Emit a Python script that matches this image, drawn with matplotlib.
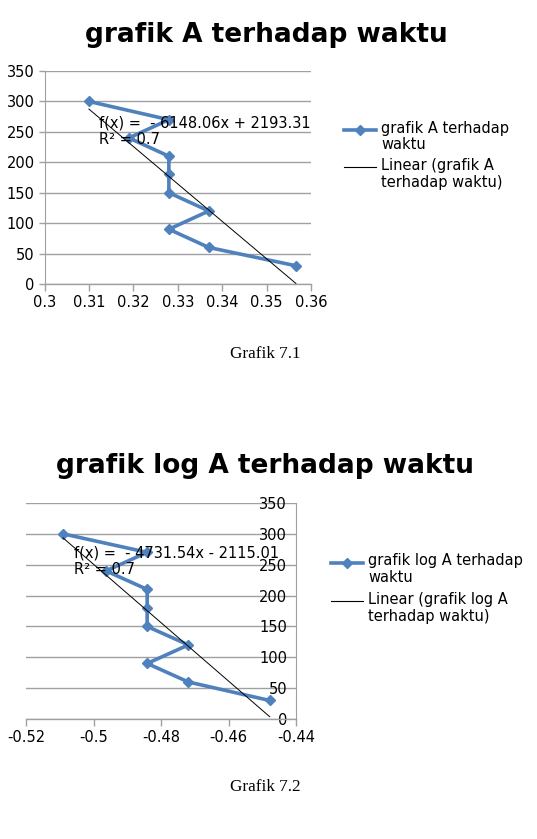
import matplotlib
matplotlib.use("Agg")
import matplotlib.pyplot as plt
from matplotlib.lines import Line2D
from matplotlib.ticker import FuncFormatter

# ---- data ----
waktu = [300, 270, 240, 210, 180, 150, 120, 90, 60, 30]
A = [0.310, 0.328, 0.319, 0.328, 0.328, 0.328, 0.337, 0.328, 0.337, 0.3566]
logA = [-0.509, -0.4841, -0.4963, -0.4841, -0.4841, -0.4841, -0.4719, -0.4841, -0.4719, -0.4478]
fit1_slope, fit1_intercept = -6148.06, 2193.31
fit2_slope, fit2_intercept = -4731.54, -2115.01
r2_1, r2_2 = 0.7, 0.7
title1 = "grafik A terhadap waktu"
title2 = "grafik log A terhadap waktu"
series1 = "grafik A terhadap\nwaktu"
trend1 = "Linear (grafik A\nterhadap waktu)"
series2 = "grafik log A terhadap\nwaktu"
trend2 = "Linear (grafik log A\nterhadap waktu)"
caption1 = "Grafik 7.1"
caption2 = "Grafik 7.2"
xticks1 = [0.30, 0.31, 0.32, 0.33, 0.34, 0.35, 0.36]
xticks2 = [-0.52, -0.50, -0.48, -0.46, -0.44]
yticks = [0, 50, 100, 150, 200, 250, 300, 350]

W, H = 537, 839
BLUE = "#4F81BD"
GRID = "#a0a0a0"
FS = 10.5
plt.rcParams['font.family'] = ['DejaVu Sans']

fig = plt.figure(figsize=(W / 100, H / 100), dpi=100)


def px(x, y):
    return x / W, 1 - y / H


def fmt(v, pos):
    s = ("%.2f" % v).rstrip("0").rstrip(".")
    if s == "-0":
        s = "0"
    return s


def style_axes(ax, xticks):
    ax.set_ylim(0, 350)
    ax.set_xlim(xticks[0], xticks[-1])
    ax.set_xticks(xticks)
    ax.set_yticks(yticks)
    ax.xaxis.set_major_formatter(FuncFormatter(fmt))
    ax.yaxis.grid(True, color=GRID, lw=1.0)
    ax.set_axisbelow(True)
    for s in ["top", "right", "left", "bottom"]:
        ax.spines[s].set_visible(False)
    ax.spines["bottom"].set_visible(True)
    ax.spines["bottom"].set_color(GRID)
    ax.spines["bottom"].set_linewidth(1.0)
    ax.tick_params(axis="x", direction="out", length=5, width=1, color=GRID,
                   labelsize=FS, pad=3)
    ax.tick_params(axis="y", labelsize=FS, color=GRID, width=1, length=4)


def draw(ax, x, y, slope, intercept):
    ax.plot(x, y, color=BLUE, lw=2.6, marker="D", ms=5, mfc=BLUE, mec=BLUE,
            solid_joinstyle="miter", zorder=3)
    xs = [min(x), max(x)]
    ax.plot(xs, [slope * v + intercept for v in xs], color="black", lw=0.7, zorder=4)


def legend(x0, y0, lab1, lab2, dy2):
    xa, ya = px(x0, y0)
    xb, _ = px(x0 + 32, y0)
    xm = (xa + xb) / 2
    fig.add_artist(Line2D([xa, xm, xb], [ya, ya, ya], transform=fig.transFigure,
                          color=BLUE, lw=2.6, marker="D", ms=5, markevery=[1]))
    tx, _ = px(x0 + 37.5, y0)
    fig.text(tx, ya + 9 / H, lab1, fontsize=FS, va="top", ha="left", linespacing=1.15)
    _, yb = px(x0, y0 + dy2)
    fig.add_artist(Line2D([xa, xb], [yb, yb], transform=fig.transFigure,
                          color="black", lw=0.8))
    fig.text(tx, yb + 9 / H, lab2, fontsize=FS, va="top", ha="left", linespacing=1.15)


# ---- chart 1 ----
l, b = px(44.5, 284)
ax1 = fig.add_axes([l, b, 266.5 / W, 213 / H])
draw(ax1, A, waktu, fit1_slope, fit1_intercept)
style_axes(ax1, xticks1)
ax1.spines["left"].set_visible(True)
ax1.spines["left"].set_color(GRID)
ax1.tick_params(axis="y", direction="out", pad=3)

fig.text(*px(266, 42), title1, fontsize=19, fontweight="bold", ha="center", va="baseline")
fig.text(*px(99, 128), "f(x) =  - %.2fx + %.2f" % (-fit1_slope, fit1_intercept),
         fontsize=FS, ha="left", va="baseline")
fig.text(*px(99, 143.5), "R² = %.1f" % r2_1, fontsize=FS, ha="left", va="baseline")
legend(343.5, 129.5, series1, trend1, 37.5)
fig.text(*px(265, 358), caption1, fontsize=12.3, ha="center", va="baseline",
         family=["Liberation Serif"])

# ---- chart 2 ----
l, b = px(26, 719)
ax2 = fig.add_axes([l, b, 270 / W, 216 / H])
draw(ax2, logA, waktu, fit2_slope, fit2_intercept)
style_axes(ax2, xticks2)
ax2.spines["right"].set_visible(True)
ax2.spines["right"].set_color(GRID)
ax2.yaxis.tick_right()
ax2.tick_params(axis="y", direction="in", length=0, pad=-6.5)
for t in ax2.get_yticklabels():
    t.set_horizontalalignment("right")

fig.text(*px(265, 473), title2, fontsize=19, fontweight="bold", ha="center", va="baseline")
fig.text(*px(73.5, 557.5), "f(x) =  - %.2fx - %.2f" % (-fit2_slope, -fit2_intercept),
         fontsize=FS, ha="left", va="baseline")
fig.text(*px(73.5, 573.5), "R² = %.1f" % r2_2, fontsize=FS, ha="left", va="baseline")
legend(331, 562.5, series2, trend2, 38.5)
fig.text(*px(265, 791), caption2, fontsize=12.3, ha="center", va="baseline",
         family=["Liberation Serif"])

fig.savefig("out.png", dpi=100, facecolor="white")
